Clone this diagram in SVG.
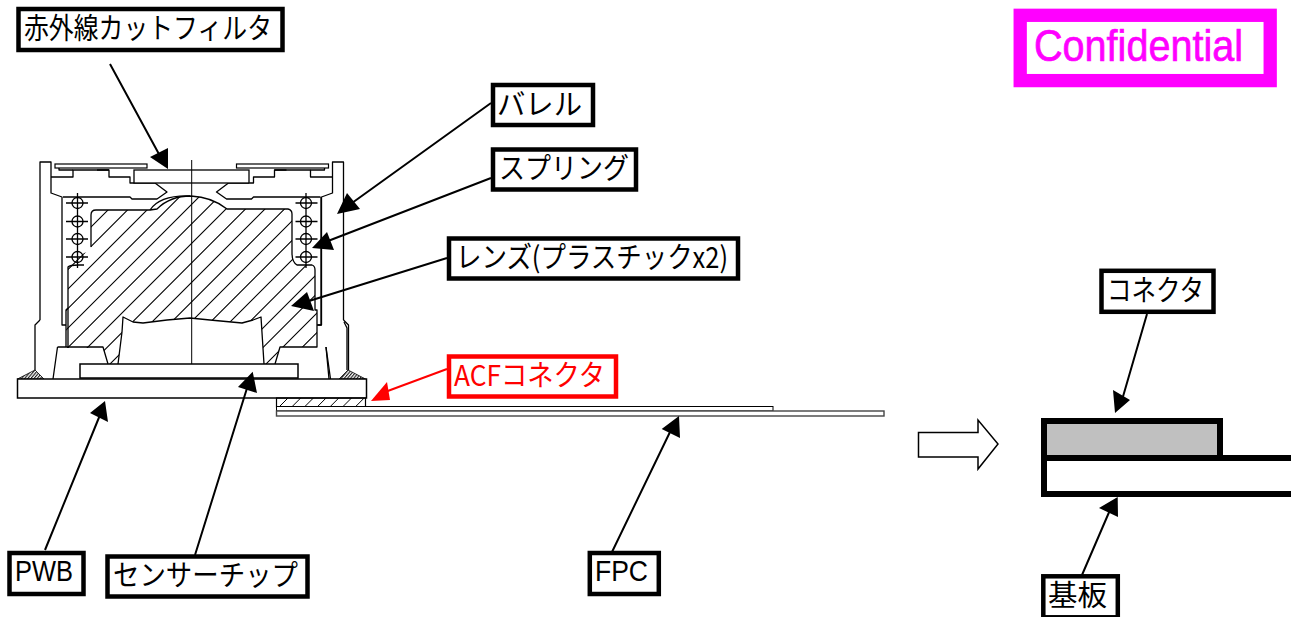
<svg xmlns="http://www.w3.org/2000/svg" width="1298" height="617" viewBox="0 0 1298 617">
<style>
.d{fill:none;stroke:#000;stroke-width:1.3;stroke-linejoin:round}
.t{font-family:"Noto Sans CJK JP","Liberation Sans",sans-serif;font-size:29px;fill:#000}
.a{font-family:"Liberation Sans",sans-serif;font-size:29px;fill:#000}
.b{fill:#fff;stroke:#000;stroke-width:4.5}
.l{stroke:#000;stroke-width:2;fill:none}
.h{fill:#000}
</style>
<defs>
<clipPath id="lensClip"><path d="M91 220Q91 210 96 210H150L157 209Q170 196 191 196Q212 197 227 209H288Q292 210 292 214V253Q292 262 297 265H312Q315 266 315 270V310H317V347H280L275 364H264L261 317L253 320L242 323L210 320L190 318L167 320L143 323L133 322L123 317L122 332L118 364H108L103 348H66.500L66 310L68 308V267L84 253Q91 252 91 247Z"/></clipPath>
<clipPath id="acfClip"><rect x="276.500" y="398" width="89" height="9"/></clipPath>
<pattern id="hW" patternUnits="userSpaceOnUse" width="6" height="2.400" patternTransform="rotate(-50)"><path d="M0 .6H6" stroke="#000" stroke-width="1"/></pattern>
<g id="half">
<path class="d" d="M40 320V162H51V193L62 197V325H66"/>
<path class="d" d="M51 177H73V170H109V177H130V183H134"/>
<rect x="55" y="164" width="92" height="4" fill="#fff" stroke="#000" stroke-width="1.200"/>
<path class="d" d="M59 168V170H73M97 170H109"/>
<path class="d" d="M134 183H155L167 192L157 199H132L130 197H63"/>
<g class="d"><circle cx="77.500" cy="203" r="5.500"/><circle cx="77.500" cy="221.500" r="5.500"/><circle cx="77.500" cy="239" r="5.500"/><circle cx="77.500" cy="257" r="5.500"/><path d="M77.500 193V268M66 203H88M66 221.500H88M66 239H88M66 257H88"/></g>
<path class="d" d="M40 320L35 325V370M57.500 347L53 379"/>
</g>
</defs>
<rect width="1298" height="617" fill="#fff"/>
<g id="assembly">
<g clip-path="url(#lensClip)"><path stroke="#000" stroke-width="1.100" fill="none" d="M168 150l-250 250M187.500 150l-250 250M207 150l-250 250M226.500 150l-250 250M246 150l-250 250M265.500 150l-250 250M285 150l-250 250M304.500 150l-250 250M324 150l-250 250M343.500 150l-250 250M363 150l-250 250M382.500 150l-250 250M402 150l-250 250M421.500 150l-250 250M441 150l-250 250M460.500 150l-250 250M480 150l-250 250M499.500 150l-250 250"/></g>
<path class="d" d="M68 348V267Q70 265 78 265H84M91 247V215Q91 210 96 210H150L157 209Q170 196 191 196Q212 197 227 209H288Q292 210 292 214V253Q292 262 297 265H312Q315 266 315 270V310H317V347H280L275 364"/>
<path class="d" d="M57.500 347H103L108 364M118 364L122 332L123 317L133 322L143 323L167 320L190 318L210 320L242 323L253 320L261 317L264 364"/>
<path class="d" d="M68 308L66 310V347"/>
<path class="d" d="M150 210Q160 195 190 196" stroke-width="2"/>
<use href="#half"/>
<use href="#half" transform="translate(383.500,0) scale(-1,1)"/>
<path class="d" d="M321 197V325H317M344 322L347 328V370M326 347L329 379"/>
<rect x="134" y="170" width="115" height="13" fill="#fff" stroke="#000" stroke-width="1.300"/>
<path d="M191.700 160V373" stroke="#000" stroke-width="1"/>
<path fill="url(#hW)" stroke="#000" stroke-width=".8" d="M17.500 379L35 370L44 379Z"/>
<path fill="url(#hW)" stroke="#000" stroke-width=".8" d="M339 379L348 370L365.500 379Z"/>
<rect x="80" y="364" width="218" height="14" fill="#fff" stroke="#000" stroke-width="1.500"/>
<rect x="17.500" y="379" width="349" height="19" fill="#fff" stroke="#000" stroke-width="1.500"/>
<g clip-path="url(#acfClip)"><path stroke="#000" stroke-width="1" fill="none" d="M290 396l-14 14M302.700 396l-14 14M315.400 396l-14 14M328.100 396l-14 14M340.800 396l-14 14M353.500 396l-14 14M366.200 396l-14 14"/></g>
<rect x="276.500" y="398" width="89" height="9" fill="none" stroke="#000" stroke-width="1.200"/>
<rect x="276.500" y="406.500" width="496.500" height="4.500" fill="#fff" stroke="#000" stroke-width="1"/>
<rect x="276.500" y="411" width="607.500" height="5" fill="#fff" stroke="#444" stroke-width="1.400"/>
</g>
<g id="connector-detail">
<path d="M918.500 432.500H978V420L998 444L978 469V457H918.500Z" fill="#fff" stroke="#000" stroke-width="1.500"/>
<rect x="1044" y="421" width="176" height="37" fill="#c0c0c0" stroke="#000" stroke-width="6"/>
<path d="M1291 458H1044V494H1291" fill="none" stroke="#000" stroke-width="6"/>
</g>
<g id="connectors">
<path class="l" d="M110 64L160 156M491 103L352 203M491 178L328 241M447 258L309 301M45 550L100 415M195 555L248 385M612 552L670 432M1147 314L1122 400M1082 575L1110 510"/>
<path d="M447 369L385 392" stroke="#f00" stroke-width="2" fill="none"/>
<path class="h" d="M168 169L150 157L168 148ZM337 214L347 193L360 209ZM312 248L327 232L334 250ZM291 306L307 292L314 311ZM105 401L90 413L108 422ZM252.700 371.700L238 387L257 393ZM679 416L661.700 429L680 438ZM1115 413L1113 390L1130 400ZM1117.700 497L1099 508L1118 517Z"/>
<path d="M371 401L387 382L390 400Z" fill="#f00"/>
</g>
<g id="n-filter"><rect class="b" x="18.500" y="9" width="264" height="41"/><text class="t" x="24" y="38.500" textLength="248" lengthAdjust="spacingAndGlyphs">赤外線カットフィルタ</text></g>
<g id="n-barrel"><rect class="b" x="493" y="85" width="100" height="40"/><text class="t" x="497" y="114.500" textLength="85" lengthAdjust="spacingAndGlyphs">バレル</text></g>
<g id="n-spring"><rect class="b" x="493" y="149.500" width="143" height="40"/><text class="t" x="499" y="178.500" textLength="130" lengthAdjust="spacingAndGlyphs">スプリング</text></g>
<g id="n-lens"><rect class="b" x="449" y="238.500" width="289" height="40"/><text class="t" x="456" y="267.500" textLength="272" lengthAdjust="spacingAndGlyphs">レンズ(プラスチックx2)</text></g>
<g id="n-acf"><rect x="449" y="356.500" width="167" height="40" fill="#fff" stroke="#f00" stroke-width="4.500"/><text class="t" x="454" y="385.500" textLength="151" lengthAdjust="spacingAndGlyphs" style="fill:#f00">ACFコネクタ</text></g>
<g id="n-connector"><rect class="b" x="1101.500" y="270.800" width="112" height="41"/><text class="t" x="1107" y="300.500" textLength="97" lengthAdjust="spacingAndGlyphs">コネクタ</text></g>
<g id="n-pwb"><rect class="b" x="9.500" y="553" width="74" height="41"/><text class="a" x="15" y="581" textLength="58" lengthAdjust="spacingAndGlyphs">PWB</text></g>
<g id="n-sensor"><rect class="b" x="107.500" y="556.500" width="200" height="40"/><text class="t" x="113" y="585.500" textLength="185" lengthAdjust="spacingAndGlyphs">センサーチップ</text></g>
<g id="n-fpc"><rect class="b" x="589.800" y="553" width="69" height="41"/><text class="a" x="595" y="581" textLength="53" lengthAdjust="spacingAndGlyphs">FPC</text></g>
<g id="n-base"><rect class="b" x="1043.300" y="576.300" width="74.500" height="41"/><text class="t" x="1048" y="605.500" textLength="59" lengthAdjust="spacingAndGlyphs">基板</text></g>
<g id="n-confidential"><rect x="1020.200" y="15.300" width="250" height="65.300" fill="#fff" stroke="#f0f" stroke-width="13.300"/><text x="1034" y="61" font-family="Liberation Sans,sans-serif" font-size="44" fill="#f0f" stroke="#f0f" stroke-width=".7" textLength="209" lengthAdjust="spacingAndGlyphs">Confidential</text></g>
</svg>
